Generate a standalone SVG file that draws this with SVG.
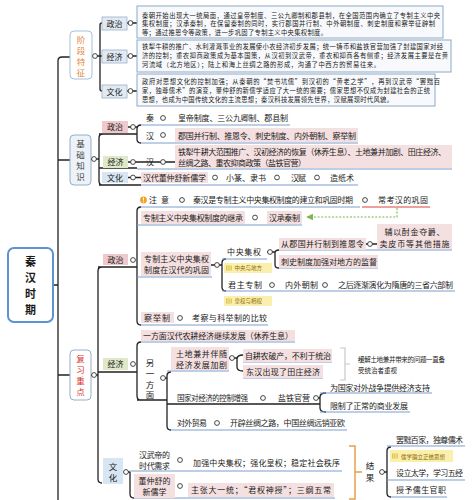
<svg xmlns="http://www.w3.org/2000/svg" width="473" height="500" viewBox="0 0 473 500">
<style>
text{font-family:"Noto Sans CJK SC","Noto Sans",sans-serif;fill:#1a1a1a}
.p{font-size:6.3px}
.r{font-size:8px}
.s{font-size:7.5px}
.n{font-size:5.5px;fill:#8a6a00}
.v{font-size:8.5px;text-anchor:middle}
.m{text-anchor:middle}
.big{font-size:11px;font-weight:bold;text-anchor:middle}
.ln{stroke:#222;stroke-width:1.3;fill:none}
.ul{stroke:#7d9fcf;stroke-width:1.2;fill:none}
.c{fill:#fff;stroke:#333;stroke-width:0.9}
.pk{fill:#f5e0e1}
.bx{fill:#f7f9fc;stroke:#8ea9c6;stroke-width:1}
.lb{fill:#e1e9f3;stroke:#9bb1c9;stroke-width:0.8}
.nt{fill:#fbefae}
.ic{fill:none;stroke:#c9a000;stroke-width:0.5}
</style>
<defs>
<marker id="ga" viewBox="0 0 10 10" refX="9" refY="5" markerWidth="6" markerHeight="6" orient="auto"><path d="M0,0 L10,5 L0,10 z" fill="#7ab648"/></marker>
</defs>

<g id="connectors">
<path class="ln" d="M70,57 H62 Q58,57 58,61 V500 M53,285 H58 M58,160 H70 M58,375 H70"/>
<path class="ln" d="M97,56 H102 M102,23 Q100,23 100,25 V89 Q100,91 102,91 M127,23 H137 M127,56 H137 M127,91 H137"/>
<path class="ln" d="M91,159 H99 M103,134 Q99,134 99,138 V181 Q99,185 103,185 M99,134 H137 M128,127 H137 M141,125 Q137,125 137,129 V139 Q137,143 141,143 M99,168 H137 M128,162 H175 M128,177.5 H141 M99,185 H141"/>
<path class="ul" d="M141,125 H290 M141,143 H358 M137,169 H452 M141,185 H358"/>
<path class="ln" d="M91,375 H98 M102,267 Q98,267 98,271 V479 Q98,483 102,483 M98,267 H137 M98,372 H137"/>
<path class="ln" d="M141,207 Q137,207 137,211 V321 Q137,325 141,325 M211,265 H222 M226,259 Q222,259 222,263 V287 Q222,291 226,291 M267,252 H275 M279,250 Q275,250 275,253 V265 Q275,268 279,268 M366,244 H377"/>
<path class="ul" d="M141,207 H360 M137,225 H302 M137,277 H212 M222,259 H267 M279,250 H452 M279,268 H378 M222,291 H455 M141,325 H268"/>
<path d="M362,207 H430" stroke="#d9443a" stroke-width="1.2" fill="none"/>
<path d="M397,208 V217 H307" stroke="#7ab648" stroke-width="1.1" stroke-dasharray="2,1.6" fill="none" marker-end="url(#ga)"/>
<path class="ln" d="M141,342 Q137,342 137,346 V396 Q137,400 141,400 M137,400 H167 M165,378 H167 M171,372 Q167,372 167,376 V426 Q167,430 171,430 M229,358 H237 M243,355 Q237,355 237,359 V367 Q237,371 243,371 M167,404 H320 M318,398 H320 M326,393 Q320,393 320,397 V408 Q320,412 326,412"/>
<path class="ul" d="M141,342 H295 M167,371 H229 M243,362 H332 M243,378 H323 M320,393 H432 M320,412 H410 M171,430 H347"/>
<path d="M340,348 H345 V380 H340 M345,364 H350" stroke="#c8c8c8" stroke-width="1.2" fill="none"/>
<path class="ln" d="M128,472 H130 M130,472 V494 Q130,498 134,498 M384,472 H387 M391,447 Q387,447 387,451 V493 Q387,497 391,497"/>
<path class="ul" d="M130,471 H342 M134,498 H335 M387,446 H465 M387,480 H465 M391,497 H447"/>
<path d="M349,446 H355 V499 H349 M355,472 H362" stroke="#e6a04e" stroke-width="1.5" fill="none"/>
</g>

<g id="root">
<rect x="8" y="248" width="45" height="74" rx="6" fill="#fff" stroke="#5b93d3" stroke-width="2"/>
<text class="big"><tspan x="30.5" y="266">秦</tspan><tspan x="30.5" dy="16">汉</tspan><tspan x="30.5" dy="16">时</tspan><tspan x="30.5" dy="16">期</tspan></text>
</g>

<g id="stage">
<rect x="70" y="31" width="22" height="48" rx="4" fill="#fff" stroke="#a6c0dc"/>
<text class="v" style="fill:#e5873a"><tspan x="81" y="42.5">阶</tspan><tspan x="81" dy="11">段</tspan><tspan x="81" dy="11">特</tspan><tspan x="81" dy="11">征</tspan></text>
<circle class="c" cx="95" cy="56" r="2.4"/>
</g>
<g id="stage-politics">
<rect class="lb" x="102" y="17" width="25" height="13"/>
<text x="114.5" y="26.5" class="r m">政治</text>
<circle class="c" cx="130.5" cy="23" r="2.4"/>
<rect class="bx" x="137" y="6" width="306" height="32"/>
<text x="142" y="17.5" class="p" textLength="298">秦朝开始出现大一统局面，通过皇帝制度、三公九卿制和郡县制，在全国范围内确立了专制主义中央</text>
<text x="142" y="26" class="p" textLength="293">集权制度；汉承秦制，在保留秦制的同时，实行郡国并行制、中外朝制度、刺史制度和察举征辟制</text>
<text x="142" y="34.5" class="p" textLength="185">等；通过推恩令等政策，进一步巩固了专制主义中央集权制度。</text>
</g>
<g id="stage-economy">
<rect class="lb" x="102" y="50" width="25" height="13"/>
<text x="114.5" y="59.5" class="r m">经济</text>
<circle class="c" cx="130.5" cy="56" r="2.4"/>
<rect class="bx" x="137" y="40" width="314" height="32"/>
<text x="142" y="48.5" class="p" textLength="301">铁犁牛耕的推广、水利灌溉事业的发展使小农经济初步发展；统一铸币和盐铁官营加强了封建国家对经</text>
<text x="142" y="57.5" class="p" textLength="306">济的控制；重农抑商政策成为基本国策，从汉初到汉武帝，重农和抑商各有侧重；经济发展主要是在黄</text>
<text x="142" y="66.5" class="p" textLength="238">河流域（北方地区）；陆上和海上丝绸之路的形成，沟通了中西方的贸易往来。</text>
</g>
<g id="stage-culture">
<rect class="lb" x="102" y="85" width="25" height="13"/>
<text x="114.5" y="94.5" class="r m">文化</text>
<circle class="c" cx="130.5" cy="91" r="2.4"/>
<rect class="bx" x="137" y="74" width="298" height="32"/>
<text x="142" y="83.5" class="p" textLength="298">政府对思想文化的控制加强；从秦朝的“焚书坑儒”到汉初的“黄老之学”，再到汉武帝“罢黜百</text>
<text x="142" y="92.5" class="p" textLength="288">家，独尊儒术”的演变，董仲舒的新儒学适应了大一统的需要；儒家思想不仅成为封建社会的正统</text>
<text x="142" y="101.5" class="p" textLength="251">思想，也成为中国传统文化的主流思想；秦汉科技发展领先世界，汉赋展现时代风貌。</text>
</g>

<g id="basic">
<rect x="70" y="135" width="21" height="50" rx="4" fill="#edf2f8" stroke="#95aec8"/>
<text class="v" style="fill:#444"><tspan x="80.5" y="147">基</tspan><tspan x="80.5" dy="11">础</tspan><tspan x="80.5" dy="11">知</tspan><tspan x="80.5" dy="11">识</tspan></text>
<circle class="c" cx="94" cy="159" r="2.4"/>
</g>
<g id="basic-politics">
<rect x="102" y="121" width="26" height="12" fill="#efc9cb"/>
<text x="115" y="130" class="r m">政治</text>
<circle class="c" cx="133" cy="127" r="2.4"/>
<text x="150" y="121" class="r m">秦</text>
<circle class="c" cx="163" cy="118" r="2.4"/>
<text x="178" y="121" class="r" textLength="110">皇帝制度、三公九卿制、郡县制</text>
<text x="150" y="138.5" class="r m">汉</text>
<circle class="c" cx="163" cy="135" r="2.4"/>
<rect class="pk" x="175" y="128" width="183" height="14"/>
<text x="178" y="138.5" class="r" textLength="178">郡国并行制、推恩令、刺史制度、内外朝制、察举制</text>
</g>
<g id="basic-economy">
<rect x="103" y="156" width="25" height="12" fill="#dfe9c9"/>
<text x="115.5" y="165" class="r m">经济</text>
<circle class="c" cx="133" cy="162" r="2.4"/>
<text x="150" y="165" class="r m">汉</text>
<circle class="c" cx="163" cy="162" r="2.4"/>
<rect class="pk" x="175" y="145" width="277" height="23"/>
<text x="178" y="154.5" class="r" textLength="268">铁犁牛耕大范围推广、汉初经济的恢复（休养生息）、土地兼并加剧、田庄经济、</text>
<text x="178" y="166" class="r" textLength="128">丝绸之路、重农抑商政策（盐铁官营）</text>
</g>
<g id="basic-culture">
<rect x="102" y="172" width="26" height="11" fill="#d8e5f2"/>
<text x="115" y="180.5" class="r m">文化</text>
<circle class="c" cx="133" cy="177.5" r="2.4"/>
<rect class="pk" x="141" y="172" width="67" height="11"/>
<text x="143" y="180.5" class="r" textLength="63">汉代董仲舒新儒学</text>
<circle class="c" cx="215" cy="177.5" r="2.4"/>
<text x="226" y="180.5" class="r" textLength="40">小篆、隶书</text>
<circle class="c" cx="277" cy="177.5" r="2.4"/>
<text x="291" y="180.5" class="r" textLength="15">汉赋</text>
<circle class="c" cx="317" cy="177.5" r="2.4"/>
<text x="330" y="180.5" class="r" textLength="24">造纸术</text>
</g>

<g id="review">
<rect x="70" y="350" width="21" height="50" rx="4" fill="#fff" stroke="#95aec8"/>
<text class="v" style="fill:#d9362f"><tspan x="80.5" y="362">复</tspan><tspan x="80.5" dy="11">习</tspan><tspan x="80.5" dy="11">重</tspan><tspan x="80.5" dy="11">点</tspan></text>
<circle class="c" cx="94" cy="375" r="2.4"/>
</g>
<g id="review-politics">
<rect x="103" y="254" width="25" height="11" fill="#efc9cb"/>
<text x="115.5" y="262.5" class="r m">政治</text>
<circle class="c" cx="133" cy="260" r="2.4"/>
</g>
<g id="note-attention">
<circle cx="143.5" cy="200" r="3.4" fill="#f2a226"/>
<rect x="143" y="197.5" width="1" height="3" fill="#fff"/>
<rect x="143" y="201.5" width="1" height="1" fill="#fff"/>
<text x="149" y="203" class="r" textLength="20">注意</text>
<circle class="c" cx="182" cy="200" r="2.4"/>
<text x="193" y="203" class="r" textLength="160">秦汉是专制主义中央集权制度的建立和巩固时期</text>
<circle class="c" cx="365" cy="200" r="2.4"/>
<text x="378" y="203" class="r" textLength="50">常考汉的巩固</text>
</g>
<g id="inherit">
<rect class="pk" x="141" y="211" width="104" height="13"/>
<text x="143" y="220.5" class="r" textLength="100">专制主义中央集权制度的继承</text>
<circle class="c" cx="255" cy="217.5" r="2.4"/>
<rect class="pk" x="267" y="211" width="35" height="13"/>
<text x="269" y="220.5" class="r" textLength="31">汉承秦制</text>
</g>
<g id="consolidate">
<rect class="pk" x="141" y="252" width="70" height="24"/>
<text x="144" y="261.5" class="r" textLength="65">专制主义中央集权</text>
<text x="144" y="273" class="r" textLength="65">制度在汉代的巩固</text>
<circle class="c" cx="217" cy="265" r="2.4"/>
</g>
<g id="central">
<text x="227" y="255" class="r" textLength="34">中央集权</text>
<circle class="c" cx="270" cy="252" r="2.4"/>
<rect class="pk" x="279" y="238" width="87" height="12"/>
<text x="281" y="247" class="r" textLength="83">从郡国并行制到推恩令</text>
<circle class="c" cx="370" cy="244" r="2.4"/>
<rect class="pk" x="377" y="224" width="75" height="25"/>
<text x="414.5" y="235" class="r m" textLength="60">辅以酎金夺爵、</text>
<text x="414.5" y="246.5" class="r m" textLength="70">卖皮币等其他措施</text>
<rect class="pk" x="279" y="255" width="99" height="13"/>
<text x="281" y="264.5" class="r" textLength="96">刺史制度加强对地方的监督</text>
<rect class="nt" x="224" y="263" width="48" height="10"/>
<rect class="ic" x="226.5" y="266" width="5" height="4"/>
<path class="ic" d="M227.5,267.3 H230.5 M227.5,268.7 H230.5"/>
<text x="234.5" y="270.3" class="n">中央与地方</text>
</g>
<g id="monarch">
<text x="228" y="288" class="r" textLength="34">君主专制</text>
<circle class="c" cx="272" cy="285" r="2.4"/>
<text x="285" y="288" class="r" textLength="33">内外朝制</text>
<circle class="c" cx="325" cy="285" r="2.4"/>
<text x="338" y="288" class="r" textLength="115">之后逐渐演化为隋唐的三省六部制</text>
<rect class="nt" x="224" y="296" width="48" height="10"/>
<rect class="ic" x="226.5" y="299" width="5" height="4"/>
<path class="ic" d="M227.5,300.3 H230.5 M227.5,301.7 H230.5"/>
<text x="234.5" y="303.3" class="n">皇权与相权</text>
</g>
<g id="recommend">
<rect class="pk" x="141" y="312" width="33" height="11"/>
<text x="144" y="320.5" class="r" textLength="26">察举制</text>
<circle class="c" cx="180" cy="318" r="2.4"/>
<text x="192" y="320.5" class="r" textLength="75">考察与科举制的比较</text>
</g>

<g id="review-economy">
<rect x="103" y="358" width="25" height="12" fill="#dfe9c9"/>
<text x="115.5" y="367" class="r m">经济</text>
<circle class="c" cx="133" cy="364" r="2.4"/>
<rect class="pk" x="141" y="330" width="154" height="11"/>
<text x="143" y="338.5" class="r" textLength="150">一方面汉代农耕经济继续发展（休养生息）</text>
</g>
<g id="other-side">
<text class="v"><tspan x="150" y="365.5">另</tspan><tspan x="150" dy="11">一</tspan><tspan x="150" dy="11">方</tspan><tspan x="150" dy="10.5">面</tspan></text>
<circle class="c" cx="163" cy="378" r="2.4"/>
</g>
<g id="land">
<rect class="pk" x="171" y="347" width="58" height="23"/>
<text x="176" y="356.5" class="r" textLength="51">土地兼并伴随</text>
<text x="176" y="368" class="r" textLength="51">经济发展加剧</text>
<circle class="c" cx="232" cy="358" r="2.4"/>
<rect class="pk" x="243" y="349" width="89" height="13"/>
<text x="245" y="358.5" class="r" textLength="86">自耕农破产，不利于统治</text>
<rect class="pk" x="243" y="365" width="80" height="13"/>
<text x="246" y="374.5" class="r" textLength="74">东汉出现了田庄经济</text>
<text x="358" y="361.5" font-size="6.5" textLength="87">缓解土地兼并带来的问题一直备</text>
<text x="358" y="373" font-size="6.5">受统治者重视</text>
</g>
<g id="state-control">
<text x="177" y="401" class="s" textLength="71">国家对经济的控制增强</text>
<circle class="c" cx="263" cy="398" r="2.4"/>
<text x="278" y="401" class="r" textLength="32">盐铁官营</text>
<circle class="c" cx="316" cy="398" r="2.4"/>
<text x="330" y="390.5" class="r" textLength="100">为国家对外战争提供经济支持</text>
<text x="330" y="408.5" class="r" textLength="78">限制了正常的商业发展</text>
</g>
<g id="trade">
<text x="177" y="426" class="r" textLength="30">对外贸易</text>
<circle class="c" cx="217" cy="423" r="2.4"/>
<text x="230" y="426" class="r" textLength="115">开辟丝绸之路，中国丝绸远销亚欧</text>
</g>

<g id="review-culture">
<rect x="103" y="458" width="20" height="26" fill="#d8e5f2"/>
<text class="v"><tspan x="113" y="469.5">文</tspan><tspan x="113" dy="11.5">化</tspan></text>
<circle class="c" cx="126" cy="472" r="2.4"/>
</g>
<g id="wudi">
<text x="139" y="458" class="r" textLength="31">汉武帝的</text>
<text x="139" y="469" class="r" textLength="31">时代需求</text>
<circle class="c" cx="180" cy="460" r="2.4"/>
<text x="193" y="465.5" class="r" textLength="147">加强中央集权；强化皇权；稳定社会秩序</text>
</g>
<g id="dong">
<rect class="pk" x="134" y="474" width="41" height="24"/>
<text x="154.5" y="483.5" class="r m">董仲舒的</text>
<text x="154.5" y="495" class="r m">新儒学</text>
<circle class="c" cx="180" cy="486" r="2.4"/>
<rect class="pk" x="188" y="483" width="146" height="14"/>
<text x="191" y="493" class="r" textLength="140">主张大一统；“君权神授”；三纲五常</text>
</g>
<g id="result">
<text class="v"><tspan x="370" y="469">结</tspan><tspan x="370" dy="11.5">果</tspan></text>
<circle class="c" cx="382" cy="472" r="2.4"/>
<text x="396" y="443" class="r" textLength="67">罢黜百家，独尊儒术</text>
<rect class="nt" x="390" y="450" width="63" height="12"/>
<rect class="ic" x="392.5" y="454" width="5" height="4"/>
<path class="ic" d="M393.5,455.3 H396.5 M393.5,456.7 H396.5"/>
<text x="401" y="458.5" class="n">儒学确立正统思想</text>
<text x="396" y="476" class="r" textLength="67">设立太学，学习五经</text>
<text x="396" y="493" class="r" textLength="50">授予儒生官职</text>
</g>
</svg>
